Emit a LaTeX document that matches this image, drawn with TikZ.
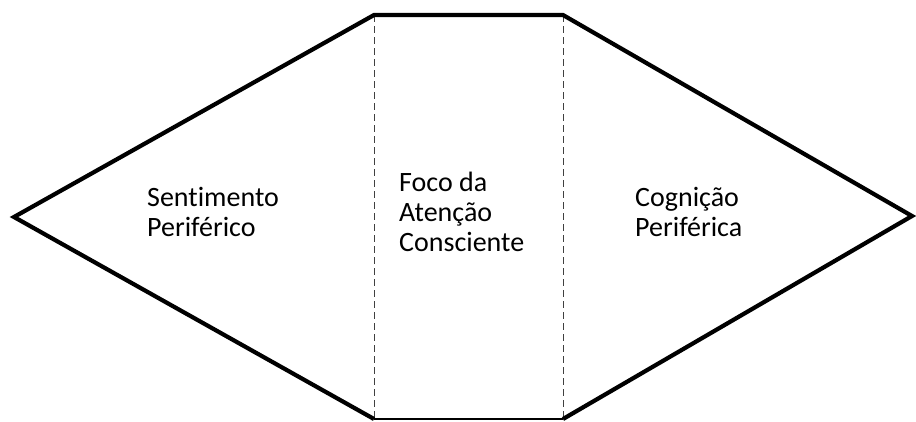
\documentclass[tikz,border=0pt]{standalone}
\usepackage{fontspec}
\setmainfont{Carlito}[RawFeature=-liga]
\usetikzlibrary{positioning}
\tikzstyle{outline} = [line width=4.2pt, line join=miter]
\tikzstyle{thinedge} = [line width=1.4pt]
\tikzstyle{divider} = [line width=1pt, dash pattern=on 7pt off 4pt, black!75]
\tikzstyle{lbl} = [align=left, inner sep=0pt, anchor=west, font=\fontsize{28}{30}\selectfont]

\begin{document}
\begin{tikzpicture}[x=1pt,y=-1pt]
        \useasboundingbox (0,0) rectangle (916,421);
        \coordinate (tipl) at (14,217);
        \coordinate (tipr) at (912,216);
        \coordinate (tl) at (374,15);
        \coordinate (tr) at (563,15);
        \coordinate (bl) at (374,419);
        \coordinate (br) at (563,419);

        \draw[divider] (tl) -- (bl);
        \draw[divider] (tr) -- (br);
        \draw[thinedge] (bl) -- (br);
        \draw[outline] (bl) -- (tipl) -- (tl) -- (tr) -- (tipr) -- (br);

        \node[lbl] (sent) at (147,212) {Sentimento\\Periférico};
        \node[lbl] (foco) at (399,212) {Foco da\\Atenção\\Consciente};
        \node[lbl] (cogn) at (635,212) {Cognição\\Periférica};
\end{tikzpicture}
\end{document}
